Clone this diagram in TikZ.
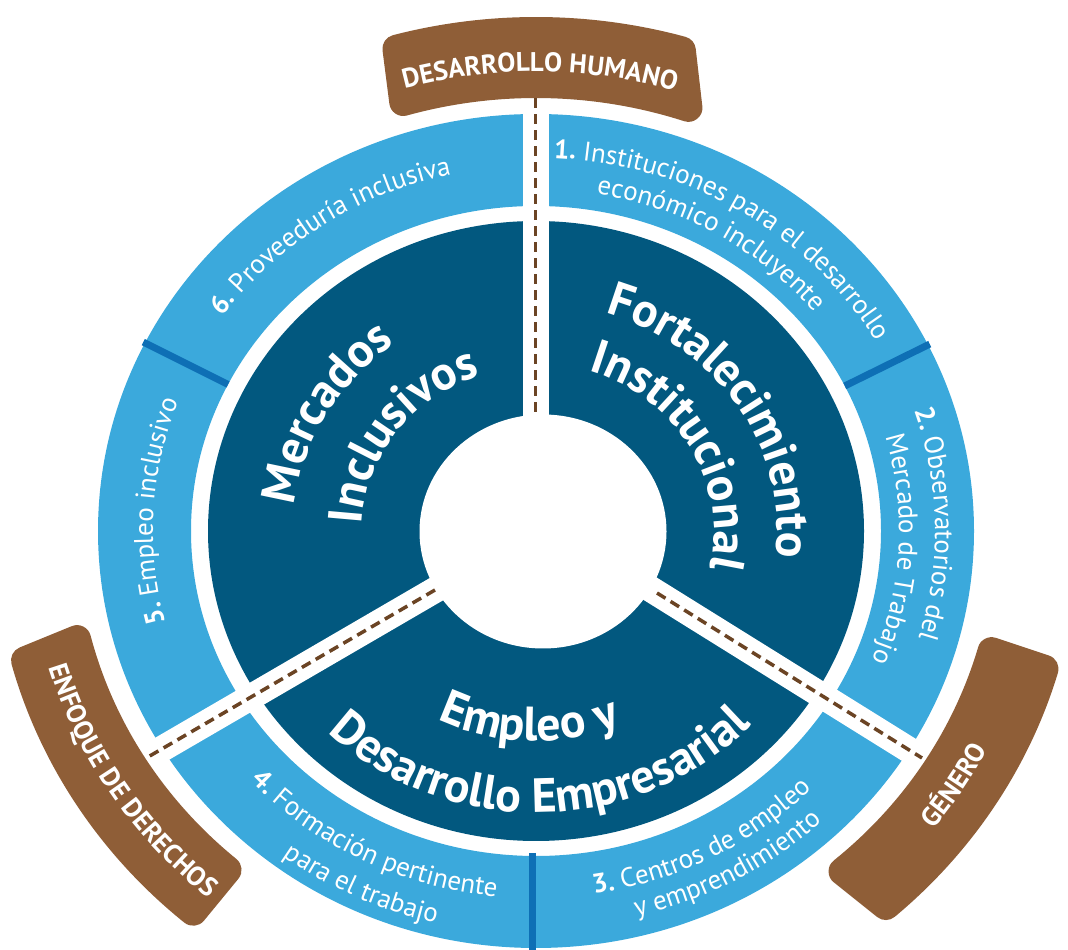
\documentclass[tikz,border=0pt]{standalone}
\usepackage{fontspec}
\setmainfont{PT Sans}
\usetikzlibrary{decorations.text,calc}
\definecolor{lb}{HTML}{3BA9DC}
\definecolor{db}{HTML}{02587F}
\definecolor{midb}{HTML}{0E6FB5}
\definecolor{tabc}{HTML}{8F5E37}
\definecolor{dashc}{HTML}{6B4424}
\newcommand{\fT}{\fontsize{48}{48}\selectfont\bfseries\color{white}}
\newcommand{\fL}{\fontsize{27}{27}\selectfont\mdseries\color{white}}
\newcommand{\fLb}{\fontsize{27}{27}\selectfont\bfseries\color{white}}
\newcommand{\fTab}{\fontsize{27}{27}\selectfont\bfseries\color{white}}
\tikzset{
  arctext/.style={decorate, decoration={text along path, text align=center, text={#1}}},
  dashline/.style={dashc, line width=3.5pt, dash pattern=on 10pt off 6pt},
  gapband/.style={white, line width=26pt},
  thindiv/.style={midb, line width=7pt},
  tabfill/.style={tabc, line width=28pt, line join=round},
}
% clockwise text (tops outward): centre angle, baseline radius, format, text
\newcommand{\cwtext}[4]{%
  \path[arctext={|#3|#4}] ($(C)+({#1+70}:{#2} and {#2*0.945})$)
    arc[start angle={#1+70}, end angle={#1-70}, x radius={#2}, y radius={#2*0.945}];}
% counter-clockwise text (tops inward)
\newcommand{\ccwtext}[4]{%
  \path[arctext={|#3|#4}] ($(C)+({#1-70}:{#2} and {#2*0.945})$)
    arc[start angle={#1-70}, end angle={#1+70}, x radius={#2}, y radius={#2*0.945}];}
% rounded curved tab: inner angles #1..#2, outer angles #3..#4
\newcommand{\tabband}[4]{%
  \filldraw[tabfill] ($(C)+(#1:473 and 447)$)
    arc[start angle=#1, end angle=#2, x radius=473, y radius=447]
    -- ($(C)+(#4:529 and 500)$)
    arc[start angle=#4, end angle=#3, x radius=529, y radius=500] -- cycle;}
\begin{document}
\begin{tikzpicture}[x=1pt,y=1pt]
\useasboundingbox (0,0) rectangle (1068,950);
\coordinate (C) at (536,419);
\coordinate (W) at (543,418.5);
% outer light ring
\fill[lb,even odd rule] (C) ellipse[x radius=438,y radius=417] (C) ellipse[x radius=345,y radius=325];
% dark ring
\fill[db] (C) ellipse[x radius=328,y radius=310];
% thin dividers in light ring
\draw[thindiv] ($(C)+(26.5:345 and 325)$) -- ($(C)+(26.5:440 and 419)$);
\draw[thindiv] ($(C)+(153.2:345 and 325)$) -- ($(C)+(153.2:440 and 419)$);
\draw[thindiv] ($(C)+(-4,-322)$) -- ($(C)+(-4,-425)$);
% connector end points
\coordinate (ct) at (535.5,538);
\coordinate (tt) at (535.5,852);
\coordinate (cl) at (435,360);
\coordinate (tl) at (148,193);
\coordinate (cr) at (657,357);
\coordinate (tr) at (922,192);
% white gaps
\draw[gapband] (535.5,430) -- (535.5,880);
\draw[gapband] ($(cl)!-0.6!(tl)$) -- ($(cl)!1.15!(tl)$);
\draw[gapband] ($(cr)!-0.6!(tr)$) -- ($(cr)!1.15!(tr)$);
% centre
\fill[white] (W) ellipse[x radius=123.5,y radius=117];
% tabs
\tabband{71.2}{106.3}{74}{105.3}
\tabband{194}{229.3}{195}{229.6}
\tabband{-49.6}{-15.6}{-48.6}{-16}
% dashed connectors
\draw[dashline] (ct) -- (tt);
\draw[dashline] (cl) -- (tl);
\draw[dashline] (cr) -- (tr);
% tab labels
\cwtext{89.5}{486}{\fTab}{DESARROLLO HUMANO}
\ccwtext{212}{508}{\fTab}{ENFOQUE DE DERECHOS}
\ccwtext{-31.5}{507}{\fTab}{GÉNERO}
% outer labels
\cwtext{58}{395}{\fLb}{1. |\fL|Instituciones para el desarrollo}
\cwtext{59}{362}{\fL}{económico incluyente}
\cwtext{1}{399}{\fLb}{2. |\fL|Observatorios del}
\cwtext{-3}{363}{\fL}{Mercado de Trabajo}
\ccwtext{-62}{388}{\fLb}{3. |\fL|Centros de empleo}
\ccwtext{-60.5}{420}{\fL}{y emprendimiento}
\ccwtext{242.5}{389}{\fLb}{4. |\fL|Formación pertinente}
\ccwtext{244}{427}{\fL}{para el trabajo}
\cwtext{177}{383}{\fLb}{5. |\fL|Empleo inclusivo}
\cwtext{124.5}{387}{\fLb}{6. |\fL|Proveeduría inclusiva}
% titles
\cwtext{32.7}{241}{\fT}{Fortalecimiento}
\cwtext{29.5}{178}{\fT}{Institucional}
\cwtext{150.5}{243}{\fT}{Mercados}
\cwtext{144}{174}{\fT}{Inclusivos}
\ccwtext{268}{222}{\fT}{Empleo y}
\ccwtext{271}{298}{\fT}{Desarrollo Empresarial}
\end{tikzpicture}
\end{document}
